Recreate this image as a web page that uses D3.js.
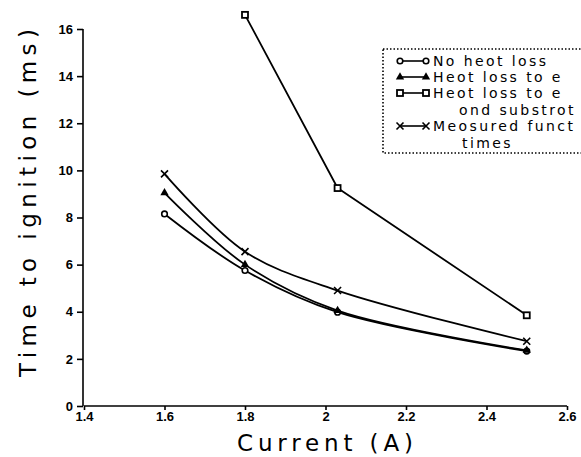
<!DOCTYPE html>
<html>
<head>
<meta charset="utf-8">
<script src="https://cdn.jsdelivr.net/npm/d3@7"></script>
<style>
  body { margin: 0; background: #fff; }
  svg { display: block; }
  .tick text { font-family: "Liberation Sans Narrow", "Liberation Sans", Arial, sans-serif; font-weight: bold; font-size: 13px; }
  .axis path, .axis line { stroke: #000; stroke-width: 1.6; }
</style>
</head>
<body>
<div id="chart"></div>
<script>
// chart values
var currents = [1.6, 1.8, 2.03, 2.5];
var noHeatLoss = [8.15, 5.75, 3.98, 2.33];
var lossElectrode = [9.05, 6.0, 4.05, 2.36];
var lossSubstrateX = [1.8, 2.03, 2.5];
var lossSubstrate = [16.6, 9.25, 3.85];
var measured = [9.85, 6.55, 4.9, 2.75];

var xTicks = [1.4, 1.6, 1.8, 2, 2.2, 2.4, 2.6];
var yTicks = [0, 2, 4, 6, 8, 10, 12, 14, 16];

var legendRows = [
  {label: "No heot loss", sym: "circle"},
  {label: "Heot loss to e", sym: "triangle"},
  {label: "Heot loss to e", sym: "square"},
  {label: "ond substrot", sym: null},
  {label: "Meosured funct", sym: "cross"},
  {label: "times", sym: null}
];

var width = 581, height = 457;

var svg = d3.select('#chart').append('svg')
  .attr('width', width)
  .attr('height', height);

var x = d3.scaleLinear().domain([1.4, 2.6]).range([84, 567]);
var y = d3.scaleLinear().domain([0, 16]).range([406, 29]);

// axes
svg.append('g')
  .attr('class', 'axis x-axis')
  .attr('transform', 'translate(0,406)')
  .call(d3.axisBottom(x).tickValues(xTicks).tickSize(4).tickPadding(2)
    .tickFormat(function(d) { return d === 2 ? '2' : d3.format('.1f')(d); }))
  .call(function(g) { g.select('.domain').attr('d', 'M84,0H567'); });

svg.append('g')
  .attr('class', 'axis y-axis')
  .attr('transform', 'translate(83,0)')
  .call(d3.axisLeft(y).tickValues(yTicks).tickSize(6).tickPadding(4))
  .call(function(g) { g.select('.domain').attr('d', 'M0,406V29'); });

// axis titles
svg.append('text')
  .attr('x', 325).attr('y', 451)
  .attr('text-anchor', 'middle')
  .attr('font-family', 'DejaVu Sans, sans-serif')
  .attr('font-size', 23)
  .attr('textLength', 176)
  .text('Current (A)');

svg.append('text')
  .attr('transform', 'translate(36,203) rotate(-90)')
  .attr('text-anchor', 'middle')
  .attr('font-family', 'DejaVu Sans, sans-serif')
  .attr('font-size', 23)
  .attr('textLength', 348)
  .text('Time to ignition (ms)');

// series
var curved = d3.line()
  .x(function(d) { return x(d[0]); })
  .y(function(d) { return y(d[1]); })
  .curve(d3.curveCatmullRom.alpha(0.5));
var straight = d3.line()
  .x(function(d) { return x(d[0]); })
  .y(function(d) { return y(d[1]); });

function pairs(xs, ys) { return xs.map(function(v, i) { return [v, ys[i]]; }); }

var series = [
  {pts: pairs(currents, noHeatLoss), sym: 'circle', line: curved},
  {pts: pairs(currents, lossElectrode), sym: 'triangle', line: curved},
  {pts: pairs(lossSubstrateX, lossSubstrate), sym: 'square', line: straight},
  {pts: pairs(currents, measured), sym: 'cross', line: curved}
];

function drawSymbol(g, sym, cx, cy) {
  if (sym === 'circle') {
    g.append('circle').attr('cx', cx).attr('cy', cy).attr('r', 2.8)
      .attr('fill', '#fff').attr('stroke', '#000').attr('stroke-width', 1.6);
  } else if (sym === 'triangle') {
    g.append('path')
      .attr('d', d3.symbol().type(d3.symbolTriangle).size(30)())
      .attr('transform', 'translate(' + cx + ',' + cy + ')')
      .attr('fill', '#000');
  } else if (sym === 'square') {
    g.append('rect').attr('x', cx - 3).attr('y', cy - 3).attr('width', 6).attr('height', 6)
      .attr('fill', '#fff').attr('stroke', '#000').attr('stroke-width', 1.8);
  } else if (sym === 'cross') {
    g.append('path')
      .attr('d', 'M' + (cx - 3.5) + ',' + (cy - 3.5) + 'L' + (cx + 3.5) + ',' + (cy + 3.5) +
                 'M' + (cx - 3.5) + ',' + (cy + 3.5) + 'L' + (cx + 3.5) + ',' + (cy - 3.5))
      .attr('stroke', '#000').attr('stroke-width', 1.6);
  }
}

var plot = svg.append('g');
series.forEach(function(s) {
  plot.append('path')
    .datum(s.pts)
    .attr('fill', 'none')
    .attr('stroke', '#000')
    .attr('stroke-width', 1.8)
    .attr('stroke-linejoin', 'round')
    .attr('d', s.line);
});
series.forEach(function(s) {
  s.pts.forEach(function(p) { drawSymbol(plot, s.sym, x(p[0]), y(p[1])); });
});

// legend (runs off the right edge like the scan)
var legend = svg.append('g').attr('class', 'legend');
legend.append('rect')
  .attr('x', 383).attr('y', 49)
  .attr('width', 240).attr('height', 104)
  .attr('fill', 'none')
  .attr('stroke', '#000')
  .attr('stroke-width', 1.6)
  .attr('stroke-dasharray', '1.5,2');

var rowY = [61, 77, 93, 110, 126, 143];
legendRows.forEach(function(r, i) {
  var indent = r.sym ? 433 : (i === 5 ? 462 : 459);
  legend.append('text')
    .attr('x', indent).attr('y', rowY[i] + 5)
    .attr('font-family', 'DejaVu Sans, sans-serif')
    .attr('font-size', 14)
    .attr('letter-spacing', 2.4)
    .text(r.label);
  if (r.sym) {
    legend.append('line')
      .attr('x1', 400).attr('x2', 426)
      .attr('y1', rowY[i]).attr('y2', rowY[i])
      .attr('stroke', '#000').attr('stroke-width', 1.6);
    drawSymbol(legend, r.sym, 400, rowY[i]);
    drawSymbol(legend, r.sym, 426, rowY[i]);
  }
});
</script>
</body>
</html>
